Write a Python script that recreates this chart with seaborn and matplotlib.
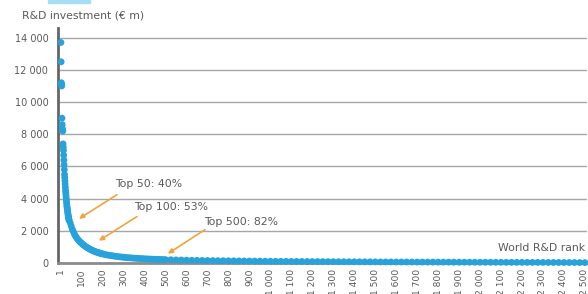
import matplotlib
matplotlib.use("Agg")
import matplotlib.pyplot as plt
import seaborn as sns
import pandas as pd

# World R&D rank -> R&D investment (EUR m)
ranks_top = list(range(1, 41))
invest_top = [13700, 12500, 11200, 11100, 11000, 9000, 8600, 8350, 8250, 8200,
              7400, 7200, 7000, 6700, 6400, 6100, 5800, 5500, 5300, 5100,
              4900, 4700, 4500, 4350, 4200, 4050, 3900, 3750, 3600, 3500,
              3400, 3300, 3200, 3100, 3000, 2920, 2850, 2780, 2710, 2650]

ranks_mid = list(range(45, 201, 5))
invest_mid = [2500, 2300, 2100, 1950, 1800, 1680, 1580, 1490, 1410, 1340,
              1280, 1220, 1160, 1110, 1060, 1010, 970, 930, 890, 850,
              820, 790, 760, 730, 700, 680, 660, 640, 620, 600,
              580, 560]

ranks_low = list(range(210, 501, 10))
invest_low = [530, 505, 480, 460, 440, 420, 400, 385, 370, 355,
              340, 330, 320, 310, 300, 292, 284, 276, 268, 260,
              254, 248, 242, 236, 231, 226, 221, 216, 212, 208]

ranks_tail = list(range(525, 2501, 25))
invest_tail = [200, 192, 185, 178, 172, 166, 160, 155, 150, 145,
               141, 137, 133, 129, 125, 121, 118, 115, 112, 109,
               106, 103, 100, 98, 96, 94, 92, 90, 88, 86,
               84, 82, 80, 78, 76, 75, 74, 72, 71, 70,
               68, 67, 66, 64, 63, 62, 61, 60, 58, 57,
               56, 55, 54, 53, 52, 51, 50, 49, 48, 47,
               46, 45, 44, 43, 42, 41, 40, 39, 38, 37,
               36, 35, 34, 33, 32, 31, 30, 29, 27, 24]

x_ticks = [1] + list(range(100, 2501, 100))
y_ticks = [0, 2000, 4000, 6000, 8000, 10000, 12000, 14000]

df = pd.DataFrame({
    "rank": ranks_top + ranks_mid + ranks_low + ranks_tail,
    "invest": invest_top + invest_mid + invest_low + invest_tail,
})

sns.set_theme(style="white")
plt.rcParams["font.family"] = ["DejaVu Sans"]

grey = "#595959"
blue = "#27a2db"
orange = "#f0a43a"

fig = plt.figure(figsize=(5.88, 2.94), dpi=100)
ax = fig.add_axes([58 / 588, 31 / 294, 529 / 588, 235 / 294])

sns.scatterplot(data=df, x="rank", y="invest", color=blue, s=24,
                edgecolor="none", linewidth=0, ax=ax, clip_on=False, zorder=3)

ax.set_xlim(-13, 2510)
ax.set_ylim(0, 14600)
ax.set_xticks(x_ticks)
ax.set_xticklabels([f"{v:,}".replace(",", " ") for v in x_ticks],
                   rotation=90, fontsize=6.6, color=grey)
ax.set_yticks(y_ticks)
ax.set_yticklabels([f"{v:,}".replace(",", " ") for v in y_ticks],
                   fontsize=7, color=grey)
ax.tick_params(axis="both", length=0)
ax.tick_params(axis="y", pad=7)
ax.tick_params(axis="x", pad=4)
ax.set_xlabel("")
ax.set_ylabel("")

ax.yaxis.grid(True, color="#a6a6a6", linewidth=1)
ax.set_axisbelow(True)
for side in ["top", "right"]:
    ax.spines[side].set_visible(False)
ax.spines["left"].set_color("#666666")
ax.spines["left"].set_linewidth(2)
ax.spines["bottom"].set_color("#8c8c8c")
ax.spines["bottom"].set_linewidth(2)

# annotations
notes = [
    ("Top 50: 40%", (87, 2750), (268, 4240), (258, 4920)),
    ("Top 100: 53%", (182, 1385), (363, 2880), (349, 3500)),
    ("Top 500: 82%", (511, 580), (688, 2070), (683, 2570)),
]
for label, tip, tail, txt in notes:
    ax.annotate("", xy=tip, xytext=tail,
                arrowprops=dict(arrowstyle="-|>", color=orange, lw=1.2,
                                mutation_scale=7, shrinkA=0, shrinkB=0))
    ax.text(txt[0], txt[1], label, fontsize=7.8, color=grey,
            ha="left", va="center")

ax.text(2500, 950, "World R&D rank", fontsize=7.8, color=grey,
        ha="right", va="center")

fig.text(22 / 588, 1 - 15 / 294, "R&D investment (€ m)", fontsize=7.8,
         color=grey, ha="left", va="center")
fig.patches.append(plt.Rectangle((48 / 588, 1 - 3 / 294), 42 / 588, 3 / 294,
                                 transform=fig.transFigure, color="#a8def5",
                                 figure=fig))

fig.savefig("out.png", dpi=100)
